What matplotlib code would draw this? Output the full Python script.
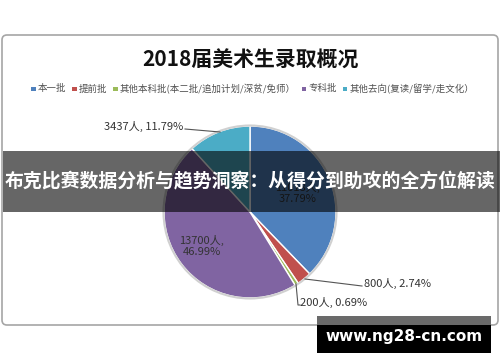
import matplotlib
matplotlib.use("Agg")
import matplotlib.pyplot as plt
from matplotlib.patches import FancyBboxPatch, Rectangle

plt.rcParams['font.family'] = ['Noto Sans CJK SC', 'DejaVu Sans']

title = "2018届美术生录取概况"
categories = ["本一批", "提前批", "其他本科批(本二批/追加计划/深贫/免师）", "专科批", "其他去向(复读/留学/走文化）"]
values = [11018, 800, 200, 13700, 3437]
colors = ["#4F81BD", "#C0504D", "#9BBB59", "#8064A2", "#4BACC6"]
banner_text = "布克比赛数据分析与趋势洞察：从得分到助攻的全方位解读"
watermark = "www.ng28-cn.com"

W, H = 500, 362
fig = plt.figure(figsize=(W / 100, H / 100), dpi=100)
ax = fig.add_axes([0, 0, 1, 1])
ax.set_xlim(0, W)
ax.set_ylim(0, H)
ax.set_aspect('equal')
ax.axis('off')

def Y(y):
    return H - y

# chart frame
frame = FancyBboxPatch((2, Y(325)), 496, 290, boxstyle="round,pad=0,rounding_size=5",
                       facecolor="white", edgecolor="#A6A6A6", linewidth=1.2, zorder=0)
ax.add_patch(frame)

ax.text(250, Y(60), title, ha='center', va='center', fontsize=15, fontweight='bold', color='#111111')

# legend
lx = 31
ly = Y(89)
for cat, col in zip(categories, colors):
    ax.add_patch(Rectangle((lx, ly - 2.3), 4.6, 4.6, facecolor=col, edgecolor='none'))
    t = ax.text(lx + 7, ly, cat, ha='left', va='center', fontsize=6.8, color='#505050')
    fig.canvas.draw()
    bb = t.get_window_extent()
    lx = bb.x1 + 5.5

total = sum(values)
pcts = [v / total * 100 for v in values]

wedges, _ = ax.pie(values, colors=colors, startangle=90, counterclock=False,
                   center=(250, Y(212)), radius=86, frame=True,
                   wedgeprops=dict(edgecolor='white', linewidth=1.0))
ax.add_patch(plt.Circle((250, Y(212)), 86.5, fill=False, edgecolor='#D0D0D0', linewidth=1.5))
ax.set_xlim(0, W)
ax.set_ylim(0, H)
ax.axis('off')

lab = lambda i: f"{values[i]}人,"
pct = lambda i: f"{pcts[i]:.2f}%"
tc = '#333333'
fs = 8
# inside labels
ax.text(298, Y(193), f"{lab(0)}\n{pct(0)}", ha='center', va='center', fontsize=fs, color=tc, linespacing=1.1)
ax.text(202, Y(246), f"{lab(3)}\n{pct(3)}", ha='center', va='center', fontsize=fs, color=tc, linespacing=1.1)
# outside labels with leader lines
ax.text(183, Y(126), f"{values[4]}人, {pct(4)}", ha='right', va='center', fontsize=fs, color=tc)
ax.plot([185, 220], [Y(129), Y(132)], color='#555555', lw=0.8)
ax.text(364, Y(283), f"{values[1]}人, {pct(1)}", ha='left', va='center', fontsize=fs, color=tc)
ax.plot([305, 362], [Y(279), Y(286)], color='#555555', lw=0.8)
ax.text(300, Y(302), f"{values[2]}人, {pct(2)}", ha='left', va='center', fontsize=fs, color=tc)
ax.plot([296, 298, 300], [Y(284), Y(305), Y(305)], color='#555555', lw=0.8)

# banner overlay
ax.add_patch(Rectangle((3, Y(212)), 497, 61, facecolor='black', alpha=0.6, edgecolor='none', zorder=10))
ax.text(250, Y(182), banner_text, ha='center', va='center', fontsize=13.6, fontweight='bold',
        color='white', zorder=11)

# watermark
ax.add_patch(Rectangle((317, Y(325)), 174, 9, facecolor='#6A6A6A', edgecolor='none', zorder=10))
ax.add_patch(Rectangle((317, Y(353)), 174, 28, facecolor='black', edgecolor='none', zorder=10))
ax.text(404, Y(337), watermark, ha='center', va='center', fontsize=11, fontweight='bold',
        color='white', zorder=11, family=['DejaVu Sans'])

fig.savefig("out.png", dpi=100)
